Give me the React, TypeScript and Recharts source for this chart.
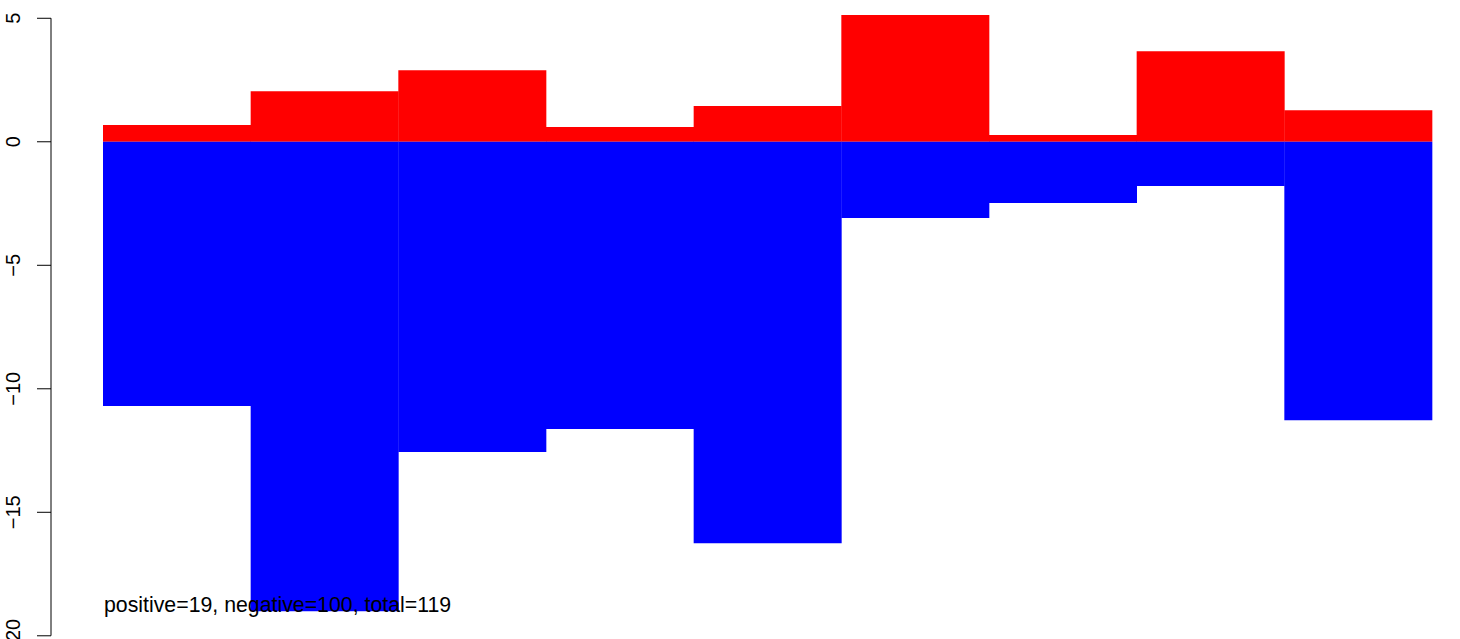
import { BarChart, Bar, XAxis, YAxis } from 'recharts';

// bins along the x axis (no labels drawn in the original)
const bins = ['1', '2', '3', '4', '5', '6', '7', '8', '9'];
const positiveValues = [0.68, 2.05, 2.9, 0.6, 1.45, 5.13, 0.27, 3.67, 1.28];
const negativeValues = [-10.7, -19.01, -12.56, -11.63, -16.25, -3.09, -2.48, -1.79, -11.27];
const yTicks = [5, 0, -5, -10, -15, -20];
const summary = 'positive=19, negative=100, total=119';

const chartData = bins.map((bin, i) => ({
  bin,
  positive: positiveValues[i],
  negative: negativeValues[i]
}));

const FONT = "'Liberation Sans', Arial, sans-serif";
const fmt = (v: number) => (v < 0 ? '\u2212' + Math.abs(v) : String(v));

const RotatedTick = ({ y, payload }: { y?: number; payload?: { value: number } }) => (
  <g>
    <line x1={37} x2={51} y1={y} y2={y} stroke="#000" />
    <text
      x={20.5}
      y={y}
      transform={`rotate(-90, 20.5, ${y})`}
      textAnchor="middle"
      fontSize={20}
      fontFamily={FONT}
      fill="#000"
    >
      {fmt(payload?.value ?? 0)}
    </text>
  </g>
);

export default function App() {
  return (
    <div style={{ position: 'absolute', left: 0, top: 0, width: 1460, height: 639, background: '#fff' }}>
      <BarChart
        width={1460}
        height={639}
        data={chartData}
        stackOffset="sign"
        barCategoryGap={0}
        barGap={0}
        margin={{ top: 0, right: 0, bottom: 0, left: 0 }}
      >
        <XAxis dataKey="bin" hide padding={{ left: 52, right: 28 }} />
        <YAxis
          width={51}
          domain={[-20.13, 5.74]}
          ticks={yTicks}
          allowDataOverflow
          interval={0}
          tickLine={false}
          axisLine={false}
          tick={<RotatedTick />}
        />
        <Bar dataKey="positive" stackId="s" fill="#ff0000" isAnimationActive={false} />
        <Bar dataKey="negative" stackId="s" fill="#0000ff" isAnimationActive={false} />
      </BarChart>
      {/* axis line spanning the tick range and the count note, drawn over the bars */}
      <svg width={1460} height={639} style={{ position: 'absolute', left: 0, top: 0, pointerEvents: 'none' }}>
        <line x1={51} x2={51} y1={18.2} y2={635.7} stroke="#000" />
        <text x={104} y={612} fontSize={21.3} fontFamily={FONT} fill="#000">
          {summary}
        </text>
      </svg>
    </div>
  );
}
